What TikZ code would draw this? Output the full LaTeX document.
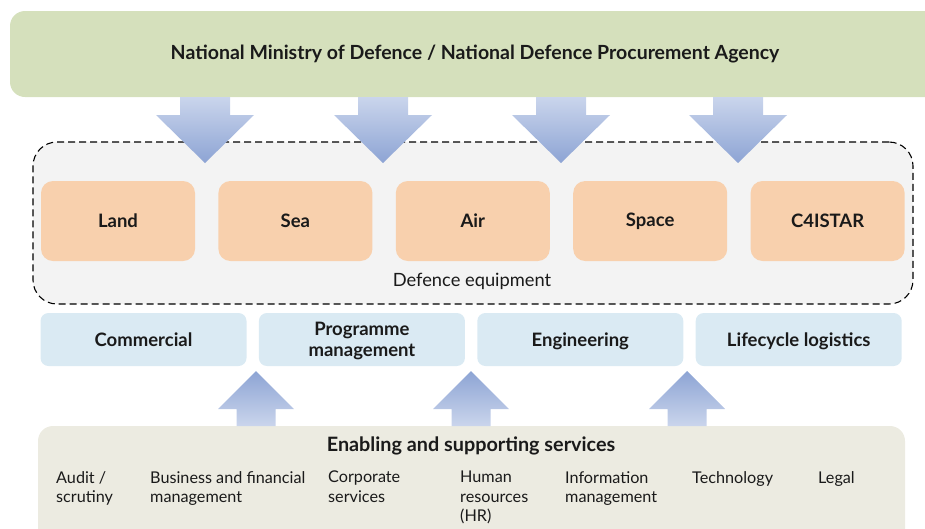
\documentclass[tikz,border=0pt]{standalone}
\usepackage{fontspec}
\setmainfont{Lato}
\usetikzlibrary{positioning}
\definecolor{modgreen}{HTML}{D5E0BC}
\definecolor{framegray}{HTML}{F3F3F3}
\definecolor{equippeach}{HTML}{F8D0AD}
\definecolor{skillblue}{HTML}{DAEAF3}
\definecolor{servbeige}{HTML}{ECEBE1}
\definecolor{arrowlight}{HTML}{CAD5EC}
\definecolor{arrowdark}{HTML}{8DA4D4}
\definecolor{textdark}{HTML}{1A1A1A}
\newcommand{\arrowdown}[1]{\shade[top color=arrowlight,bottom color=arrowdark]
  ({#1-25},97) -- ({#1+25},97) -- ({#1+25},115) -- ({#1+49},115) -- (#1,163)
  -- ({#1-49},115) -- ({#1-25},115) -- cycle;}
\newcommand{\arrowup}[1]{\shade[top color=arrowdark,bottom color=arrowlight]
  ({#1-19.5},426) -- ({#1+19.5},426) -- ({#1+19.5},409) -- ({#1+38},409) -- (#1,371)
  -- ({#1-38},409) -- ({#1-19.5},409) -- cycle;}
\begin{document}
\begin{tikzpicture}[x=1pt,y=-1pt,every node/.style={text=textdark,inner sep=0pt}]
        \tikzset{topbox/.style = {fill=modgreen,rounded corners=15pt,minimum width=930pt,minimum height=86pt,font=\bfseries\fontsize{19.5}{22}\selectfont}}
        \tikzset{frame/.style = {fill=framegray,draw=black,dashed,dash pattern=on 7pt off 4pt,line width=1.1pt,rounded corners=24pt,minimum width=880pt,minimum height=162pt}}
        \tikzset{equip/.style = {fill=equippeach,rounded corners=12pt,minimum width=154pt,minimum height=80pt,font=\bfseries\fontsize{18.5}{21}\selectfont}}
        \tikzset{skill/.style = {fill=skillblue,rounded corners=8pt,minimum width=206pt,minimum height=53pt,align=center,text depth=0pt,font=\bfseries\fontsize{18.5}{21}\selectfont}}
        \tikzset{item/.style = {anchor=north west,align=left,font=\fontsize{16.2}{19.5}\selectfont}}
        \clip (0,0) rectangle (925,528);

        \node[topbox] (mod) at (475,54) {National Ministry of Defence / National Defence Procurement Agency};

        \node[frame] (equipment) at (473,223) {};
        \node[font=\fontsize{18.3}{21}\selectfont] (equiplabel) at (472,281) {Defence equipment};

        \foreach \x in {205,383,561,738} {\arrowdown{\x}}

        \node[equip] (land) at (118,221) {Land};
        \node[equip,right=23pt of land] (sea) {Sea};
        \node[equip,right=23pt of sea] (air) {Air};
        \node[equip,right=23pt of air] (space) {Space};
        \node[equip,right=23pt of space] (c4istar) {C4ISTAR};

        \node[skill] (commercial) at (143.5,339.5) {Commercial};
        \node[skill,right=12pt of commercial] (programme) {Programme\\management};
        \node[skill,right=12pt of programme] (engineering) {Engineering};
        \node[skill,right=12pt of engineering] (logistics) {Lifecycle logistics};

        \node[fill=servbeige,rounded corners=15pt,minimum width=867pt,minimum height=130pt] (services) at (471.5,491) {};
        \node[font=\bfseries\fontsize{19.8}{22}\selectfont] (servtitle) at (471,446) {Enabling and supporting services};

        \foreach \x in {256,471,687} {\arrowup{\x}}

        \node[item] (audit) at (56,471) {Audit /\\scrutiny};
        \node[item] (business) at (150,471) {Business and financial\\management};
        \node[item] (corporate) at (328,471) {Corporate\\services};
        \node[item] (hr) at (460,471) {Human\\resources\\(HR)};
        \node[item] (information) at (565,471) {Information\\management};
        \node[item] (technology) at (692,471) {Technology};
        \node[item] (legal) at (818,471) {Legal};
\end{tikzpicture}
\end{document}
